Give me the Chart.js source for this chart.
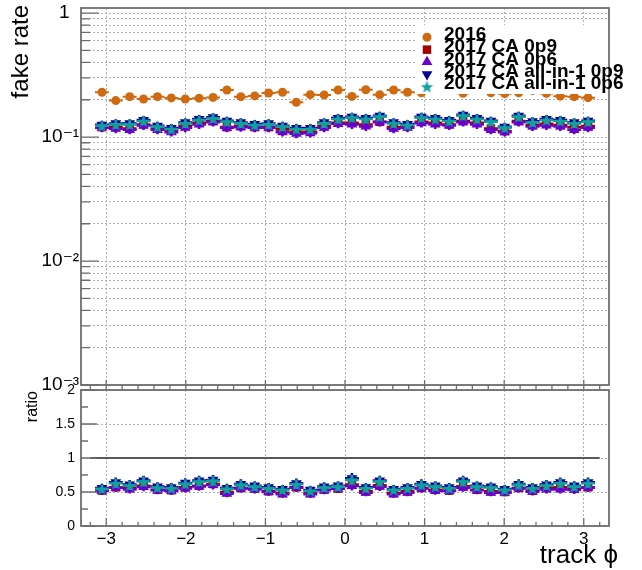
<!DOCTYPE html>
<html><head><meta charset="utf-8">
<script src="https://cdn.jsdelivr.net/npm/chart.js@4/dist/chart.umd.min.js"></script>
<style>
html,body{margin:0;padding:0;background:#fff;}
#wrap{position:relative;width:642px;height:570px;overflow:hidden;background:#fff;}
#wrap canvas{position:absolute;left:0;}
#top{top:0;width:642px;height:400px;}
#bot{top:370px;width:642px;height:200px;}
</style></head><body>
<div id="wrap"><canvas id="top" width="642" height="400"></canvas><canvas id="bot" width="642" height="200"></canvas></div>
<script>
// ---------------- data ----------------
const phi = [-3.054,-2.880,-2.705,-2.531,-2.356,-2.182,-2.007,-1.833,-1.658,-1.484,-1.309,-1.134,
  -0.960,-0.785,-0.611,-0.436,-0.262,-0.087,0.087,0.262,0.436,0.611,0.785,0.960,
  1.134,1.309,1.484,1.658,1.833,2.007,2.182,2.356,2.531,2.705,2.880,3.054];

const seriesNames = ['2016','2017 CA 0p9','2017 CA 0p6','2017 CA all-in-1 0p9','2017 CA all-in-1 0p6'];

const rate2016 = [0.230,0.197,0.212,0.203,0.212,0.207,0.203,0.206,0.209,0.240,0.212,0.215,
  0.227,0.230,0.191,0.220,0.219,0.240,0.213,0.241,0.220,0.240,0.230,0.228,
  0.242,0.243,0.226,0.242,0.228,0.224,0.228,0.238,0.225,0.214,0.212,0.208];
const rateCA09 = [0.1203,0.1203,0.1174,0.1264,0.1174,0.1131,0.1226,0.1304,0.1346,0.1203,0.1226,0.1203,
  0.1203,0.1153,0.1104,0.1104,0.1226,0.1304,0.1304,0.1264,0.1329,0.1203,0.1226,0.1329,
  0.1304,0.1264,0.1346,0.1304,0.1174,0.1118,0.1346,0.1249,0.1280,0.1249,0.1203,0.1226];
const rateCA06 = [0.1189,0.1167,0.1145,0.1241,0.1145,0.1097,0.1189,0.1264,0.1321,0.1189,0.1203,0.1189,
  0.1189,0.1097,0.1064,0.1077,0.1189,0.1280,0.1264,0.1218,0.1321,0.1167,0.1189,0.1296,
  0.1264,0.1241,0.1321,0.1264,0.1145,0.1097,0.1321,0.1218,0.1241,0.1218,0.1145,0.1189];
const rateAll09 = [0.1256,0.1288,0.1288,0.1371,0.1233,0.1181,0.1313,0.1397,0.1441,0.1354,0.1313,0.1272,
  0.1288,0.1233,0.1181,0.1181,0.1313,0.1423,0.1458,0.1423,0.1485,0.1313,0.1272,0.1458,
  0.1423,0.1371,0.1511,0.1423,0.1354,0.1211,0.1485,0.1338,0.1397,0.1371,0.1313,0.1354];
const rateAll06 = [0.1233,0.1264,0.1264,0.1346,0.1211,0.1160,0.1288,0.1371,0.1414,0.1329,0.1288,0.1249,
  0.1264,0.1211,0.1160,0.1160,0.1288,0.1397,0.1432,0.1397,0.1458,0.1288,0.1249,0.1432,
  0.1397,0.1346,0.1485,0.1397,0.1329,0.1189,0.1458,0.1313,0.1371,0.1346,0.1288,0.1329];

const ratioCA09 = [0.520,0.569,0.559,0.593,0.534,0.525,0.569,0.593,0.618,0.500,0.559,0.549,
  0.510,0.485,0.569,0.485,0.534,0.549,0.608,0.510,0.598,0.485,0.510,0.559,
  0.534,0.520,0.583,0.534,0.510,0.500,0.559,0.520,0.559,0.569,0.549,0.569];
const ratioCA06 = [0.515,0.564,0.539,0.574,0.525,0.515,0.554,0.583,0.603,0.476,0.554,0.539,
  0.500,0.466,0.564,0.466,0.525,0.549,0.588,0.490,0.578,0.466,0.490,0.554,
  0.515,0.515,0.564,0.525,0.490,0.490,0.554,0.505,0.539,0.539,0.530,0.564];
const ratioAll09 = [0.559,0.642,0.608,0.667,0.579,0.569,0.633,0.667,0.677,0.559,0.618,0.593,
  0.569,0.544,0.628,0.530,0.579,0.593,0.701,0.569,0.667,0.544,0.569,0.618,
  0.593,0.569,0.667,0.593,0.579,0.544,0.618,0.569,0.608,0.642,0.593,0.642];
const ratioAll06 = [0.544,0.627,0.593,0.652,0.564,0.554,0.618,0.652,0.662,0.544,0.603,0.578,
  0.554,0.529,0.613,0.515,0.564,0.578,0.676,0.554,0.652,0.529,0.554,0.603,
  0.578,0.554,0.652,0.578,0.564,0.529,0.603,0.554,0.593,0.627,0.578,0.627];

const xTicks = [-3,-2,-1,0,1,2,3];
const logMajorValues = [1,0.1,0.01,0.001];
const logMajorLabels = ['1\u2002','10\u207B\u00B9','10\u207B\u00B2','10\u207B\u00B3'];
const ratioTicks = [0,0.5,1,1.5,2];
const ratioTickLabels = ['0','0.5','1','1.5','2'];
const refLineX = [-3.2, 3.2];
const refLineY = 1;
const binHalfWidth = 0.0873;   // half bin width in phi
const relErrRate = 0.08;       // approximate statistical error (relative)
const relErrRatio = 0.11;

// ---------------- style ----------------
const colors = ['#d06a10','#a00000','#6a00cc','#000099','#10a0a0'];
const frameColor = '#6e6e6e';
const gridColor = '#b0b0b0';
const FONT = '"Liberation Sans", "DejaVu Sans", Arial, sans-serif';

function makeStar(color, size) {
  const c = document.createElement('canvas');
  c.width = size; c.height = size;
  const g = c.getContext('2d');
  const R = size / 2, r = R * 0.42;
  g.beginPath();
  for (let k = 0; k < 10; k++) {
    const ang = -Math.PI / 2 + k * Math.PI / 5;
    const rad = (k % 2) ? r : R;
    g.lineTo(R + rad * Math.cos(ang), R + 0.6 + rad * Math.sin(ang));
  }
  g.closePath(); g.fillStyle = color; g.fill();
  return c;
}
const starImg = makeStar(colors[4], 13);

const markerStyles = [
  {pointStyle: 'circle', radius: 4.5, rotation: 0},
  {pointStyle: 'rect', radius: 6, rotation: 0},
  {pointStyle: 'triangle', radius: 6.2, rotation: 0},
  {pointStyle: 'triangle', radius: 6.2, rotation: 180},
  {pointStyle: starImg, radius: 6.5, rotation: 0},
];
const drawOrder = [4, 3, 2, 1, 0];
const errWidths = [2, 2.6, 2.6, 2.6, 2.4];

function makeSet(i, values, rel) {
  const m = markerStyles[i];
  return {
    label: seriesNames[i],
    data: phi.map((x, k) => ({x: x, y: values[k]})),
    pointStyle: m.pointStyle, pointRadius: m.radius, pointRotation: m.rotation,
    pointHoverRadius: m.radius,
    backgroundColor: colors[i], borderColor: colors[i], pointBorderWidth: 0,
    showLine: false, order: drawOrder[i],
    errColor: colors[i], errRel: rel, errWidth: errWidths[i]
  };
}

// error bars drawn right before each dataset's markers
const errBarPlugin = {
  id: 'errBars',
  beforeDatasetDraw(chart, args) {
    const ds = chart.data.datasets[args.index];
    if (!ds.errColor) return;
    const xs = chart.scales.x, ys = chart.scales.y, ctx = chart.ctx, a = chart.chartArea;
    ctx.save();
    ctx.beginPath(); ctx.rect(a.left, a.top, a.right - a.left, a.bottom - a.top); ctx.clip();
    ctx.strokeStyle = ds.errColor; ctx.lineWidth = ds.errWidth;
    ctx.beginPath();
    ds.data.forEach(p => {
      const py = ys.getPixelForValue(p.y);
      ctx.moveTo(xs.getPixelForValue(p.x - binHalfWidth), py);
      ctx.lineTo(xs.getPixelForValue(p.x + binHalfWidth), py);
      if (ds.errRel > 0) {
        const px = xs.getPixelForValue(p.x);
        ctx.moveTo(px, ys.getPixelForValue(p.y * (1 - ds.errRel)));
        ctx.lineTo(px, ys.getPixelForValue(p.y * (1 + ds.errRel)));
      }
    });
    ctx.stroke();
    ctx.restore();
  }
};

function zeroPad(s) { s.paddingLeft = 0; s.paddingRight = 0; s.paddingTop = 0; s.paddingBottom = 0; }

// tick values for log axis (axis configuration)
const logTickValues = [];
[0.001, 0.01, 0.1].forEach(d => { for (let m = 1; m <= 9; m++) logTickValues.push(+(m * d).toPrecision(3)); });
logTickValues.push(1);
const minorX = [];
for (let k = -16; k <= 16; k++) minorX.push({v: +(k * 0.2).toFixed(1), major: k % 5 === 0});
const ratioMinor = [0, 0.25, 0.5, 0.75, 1, 1.25, 1.5, 1.75, 2];

// ---------------- top chart ----------------
const topDecor = {
  id: 'topDecor',
  afterDatasetsDraw(chart) {
    const {ctx, chartArea: a, scales: {x, y}} = chart;
    ctx.save();
    ctx.strokeStyle = frameColor; ctx.lineWidth = 1.3;
    ctx.beginPath();
    logTickValues.forEach(v => {
      const py = y.getPixelForValue(v);
      const len = logMajorValues.includes(v) ? 18 : 9;
      ctx.moveTo(a.left, py); ctx.lineTo(a.left + len, py);
    });
    minorX.forEach(t => {
      const px = x.getPixelForValue(t.v);
      ctx.moveTo(px, a.bottom + 5); ctx.lineTo(px, a.bottom - (t.major ? 5 : 0));
    });
    ctx.stroke();
    ctx.lineWidth = 1.8;
    ctx.strokeRect(a.left, a.top, a.right - a.left, a.bottom - a.top);
    ctx.restore();
  },
  afterDraw(chart) {
    const ctx = chart.ctx;
    // legend
    ctx.save();
    ctx.fillStyle = '#ffffff';
    ctx.fillRect(415, 25, 192, 69);
    const markerX = 427, textX = 444, y0 = 37.3, dy = 12.35;
    seriesNames.forEach((name, i) => {
      const my = y0 + i * dy;
      const m = markerStyles[i];
      ctx.fillStyle = colors[i];
      Chart.helpers.drawPoint(ctx, {pointStyle: m.pointStyle, radius: m.radius, rotation: m.rotation, borderWidth: 0}, markerX, my);
      ctx.fillStyle = '#000';
      ctx.font = 'bold 19px ' + FONT;
      ctx.textAlign = 'left'; ctx.textBaseline = 'alphabetic';
      ctx.fillText(name, textX, my + 2.5);
    });
    ctx.restore();
    // y title
    ctx.save();
    ctx.translate(28, 5);
    ctx.rotate(-Math.PI / 2);
    ctx.font = '24px ' + FONT;
    ctx.fillStyle = '#000'; ctx.textAlign = 'right'; ctx.textBaseline = 'alphabetic';
    ctx.fillText('fake rate', 0, 0);
    ctx.restore();
  }
};

new Chart(document.getElementById('top'), {
  type: 'scatter',
  data: {
    datasets: [
      makeSet(0, rate2016, 0),
      makeSet(1, rateCA09, relErrRate),
      makeSet(2, rateCA06, relErrRate),
      makeSet(3, rateAll09, relErrRate),
      makeSet(4, rateAll06, relErrRate)
    ]
  },
  options: {
    responsive: false, animation: false, devicePixelRatio: 1,
    layout: {padding: {left: 0, right: 33, top: 8, bottom: 15}},
    plugins: {legend: {display: false}, tooltip: {enabled: false}},
    scales: {
      x: {
        type: 'linear', min: -3.317, max: 3.317,
        afterBuildTicks: s => { s.ticks = xTicks.map(v => ({value: v})); },
        afterFit: s => { s.height = 0; zeroPad(s); },
        ticks: {display: false},
        grid: {color: gridColor, lineWidth: 1, drawTicks: false},
        border: {display: false, dash: [2, 2]}
      },
      y: {
        type: 'logarithmic', min: 0.001, max: 1.1,
        afterBuildTicks: s => { s.ticks = logTickValues.map(v => ({value: v, major: logMajorValues.includes(v)})); },
        afterFit: s => { s.width = 81; zeroPad(s); },
        ticks: {
          autoSkip: false, padding: 2, color: '#000',
          font: {family: FONT, size: 19},
          callback: v => { const k = logMajorValues.findIndex(m => Math.abs(m - v) / m < 1e-6); return k >= 0 ? logMajorLabels[k] : ''; }
        },
        grid: {color: gridColor, lineWidth: 1, drawTicks: false},
        border: {display: false, dash: [2, 2]}
      }
    }
  },
  plugins: [errBarPlugin, topDecor]
});

// ---------------- bottom (ratio) chart ----------------
const botDecor = {
  id: 'botDecor',
  afterDatasetsDraw(chart) {
    const {ctx, chartArea: a, scales: {x, y}} = chart;
    ctx.save();
    ctx.strokeStyle = frameColor; ctx.lineWidth = 1.3;
    ctx.beginPath();
    ratioMinor.forEach(v => {
      const py = y.getPixelForValue(v);
      const len = ratioTicks.includes(v) ? 16 : 7;
      ctx.moveTo(a.left, py); ctx.lineTo(a.left + len, py);
    });
    minorX.forEach(t => {
      const px = x.getPixelForValue(t.v);
      ctx.moveTo(px, a.bottom); ctx.lineTo(px, a.bottom - (t.major ? 8 : 4));
    });
    ctx.stroke();
    ctx.lineWidth = 1.8;
    ctx.strokeRect(a.left, a.top, a.right - a.left, a.bottom - a.top);
    ctx.restore();
  },
  afterDraw(chart) {
    const ctx = chart.ctx;
    ctx.save();
    ctx.fillStyle = '#000';
    ctx.font = '26px ' + FONT;
    ctx.textAlign = 'right'; ctx.textBaseline = 'alphabetic';
    ctx.fillText('track \u03D5', 618, 193);
    ctx.restore();
    ctx.save();
    ctx.translate(37, 21);
    ctx.rotate(-Math.PI / 2);
    ctx.font = '16px ' + FONT;
    ctx.fillStyle = '#000'; ctx.textAlign = 'right'; ctx.textBaseline = 'alphabetic';
    ctx.fillText('ratio', 0, 0);
    ctx.restore();
  }
};

new Chart(document.getElementById('bot'), {
  type: 'scatter',
  data: {
    datasets: [
      {
        label: 'reference', type: 'line',
        data: refLineX.map(x => ({x: x, y: refLineY})),
        borderColor: '#5a5a5a', borderWidth: 2, pointRadius: 0, showLine: true, order: 10
      },
      makeSet(1, ratioCA09, relErrRatio),
      makeSet(2, ratioCA06, relErrRatio),
      makeSet(3, ratioAll09, relErrRatio),
      makeSet(4, ratioAll06, relErrRatio)
    ]
  },
  options: {
    responsive: false, animation: false, devicePixelRatio: 1,
    layout: {padding: {left: 0, right: 33, top: 20, bottom: 0}},
    plugins: {legend: {display: false}, tooltip: {enabled: false}},
    scales: {
      x: {
        type: 'linear', min: -3.317, max: 3.317,
        afterBuildTicks: s => { s.ticks = xTicks.map(v => ({value: v})); },
        afterFit: s => { s.height = 44; zeroPad(s); },
        ticks: {
          autoSkip: false, maxRotation: 0, padding: 3, color: '#000',
          font: {family: FONT, size: 17},
          callback: v => (v < 0 ? '\u2212' + Math.abs(v) : String(v))
        },
        grid: {color: gridColor, lineWidth: 1, drawTicks: false},
        border: {display: false, dash: [2, 2]}
      },
      y: {
        type: 'linear', min: 0, max: 2,
        afterBuildTicks: s => { s.ticks = ratioTicks.map(v => ({value: v})); },
        afterFit: s => { s.width = 81; zeroPad(s); },
        ticks: {
          autoSkip: false, padding: 6, color: '#000',
          font: {family: FONT, size: 14},
          callback: v => { const k = ratioTicks.indexOf(v); return k >= 0 ? ratioTickLabels[k] : ''; }
        },
        grid: {color: gridColor, lineWidth: 1, drawTicks: false},
        border: {display: false, dash: [2, 2]}
      }
    }
  },
  plugins: [errBarPlugin, botDecor]
});
</script>
</body></html>
